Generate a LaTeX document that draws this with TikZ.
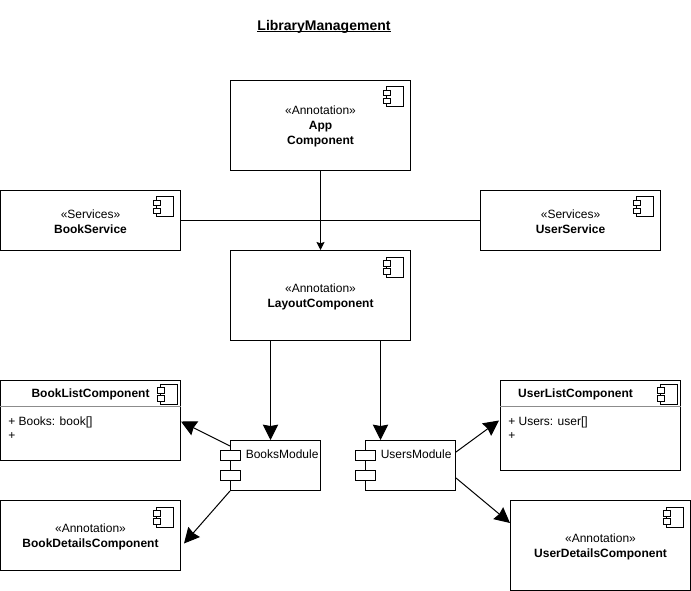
\documentclass[tikz,border=0pt]{standalone}
\usepackage{fontspec}
\setmainfont{Liberation Sans}
\usetikzlibrary{arrows.meta}
\tikzset{
  comp/.style 2 args={draw=black,line width=.75pt,fill=white,inner sep=0pt,
    minimum width=#1*.75pt,minimum height=#2*.75pt},
  txt/.style={inner sep=0pt,font=\fontsize{9}{11.25}\selectfont},
  lab/.style={txt,align=center},
  wire/.style={draw=black,line width=.75pt},
  bigarrow/.style={wire,-{Stealth[length=11.5pt,width=11.5pt,inset=1pt]}},
  smallarrow/.style={wire,-{Stealth[length=6pt,width=6pt,inset=1pt]}},
  iconpart/.style={draw=black,line width=.75pt,fill=white}
}
\newcommand{\compicon}[3]{%
  \begin{scope}[shift={(#1.north east)}]
    \draw[iconpart] (#2+3.5,#3) rectangle (#2+20,#3+20);
    \draw[iconpart] (#2,#3+3.5) rectangle (#2+7,#3+9);
    \draw[iconpart] (#2,#3+11.5) rectangle (#2+7,#3+17);
  \end{scope}}
\newcommand{\modports}[1]{%
  \begin{scope}[shift={(#1.north west)}]
    \draw[iconpart] (-10,10) rectangle (10,20);
    \draw[iconpart] (-10,30) rectangle (10,40);
  \end{scope}}
\begin{document}
\begin{tikzpicture}[x=.75pt,y=-.75pt]
\useasboundingbox[fill=white] (-0.5,-0.5) rectangle (690.5,590.5);

\node[txt,font=\fontsize{10.5}{12}\selectfont\bfseries,anchor=base] (title) at (323.5,30) {LibraryManagement};
\draw[draw=black,line width=.75pt] ([yshift=-1.1pt]title.base west) -- ([yshift=-1.1pt]title.base east);

\node[comp={180}{90}] (app) at (320,125) {};
\node[comp={180}{60}] (bookservice) at (90,220) {};
\node[comp={180}{60}] (userservice) at (570,220) {};
\node[comp={180}{90}] (layout) at (320,295) {};
\node[comp={180}{80}] (booklist) at (90,420) {};
\node[comp={180}{70}] (bookdetails) at (90,535) {};
\node[comp={90}{50}] (books) at (275,465) {};
\node[comp={90}{50}] (users) at (410,465) {};
\node[comp={180}{90}] (userlist) at (590,425) {};
\node[comp={180}{90}] (userdetails) at (600,545) {};

\node[lab] (applabel) at ([yshift=-1pt]app.center) {«Annotation»\\\textbf{App}\\\textbf{Component}};
\node[lab] (bookservicelabel) at ([yshift=-1pt]bookservice.center) {«Services»\\\textbf{BookService}};
\node[lab] (userservicelabel) at ([yshift=-1pt]userservice.center) {«Services»\\\textbf{UserService}};
\node[lab] (layoutlabel) at ([yshift=-1pt]layout.center) {«Annotation»\\\textbf{LayoutComponent}};
\node[lab] (bookdetailslabel) at ([yshift=-1pt]bookdetails.center) {«Annotation»\\\textbf{BookDetailsComponent}};
\node[lab] (userdetailslabel) at ([yshift=-1pt]userdetails.center) {«Annotation»\\\textbf{UserDetailsComponent}};

\compicon{app}{-28}{7}
\compicon{bookservice}{-28}{7}
\compicon{userservice}{-28}{7}
\compicon{layout}{-28}{7}
\compicon{booklist}{-24}{4}
\compicon{bookdetails}{-28}{7}
\compicon{userlist}{-24}{4}
\compicon{userdetails}{-28}{7}
\modports{books}
\modports{users}

\draw[draw=black!45,line width=.75pt] ([yshift=-19.5pt]booklist.north west) -- ([yshift=-19.5pt]booklist.north east);
\draw[draw=black!45,line width=.75pt] ([yshift=-19.5pt]userlist.north west) -- ([yshift=-19.5pt]userlist.north east);

\node[txt,font=\fontsize{9}{11.25}\selectfont\bfseries] (booklisttitle) at (90,393.5) {BookListComponent};
\node[txt,anchor=base west] (bookfield) at (7.5,425) {+ Books: book[]};
\node[txt,anchor=base west] (bookplus) at (7.5,439) {+};
\node[txt,font=\fontsize{9}{11.25}\selectfont\bfseries] (userlisttitle) at (575,393.5) {UserListComponent};
\node[txt,anchor=base west] (userfield) at (507.5,425) {+ Users: user[]};
\node[txt,anchor=base west] (userplus) at (507.5,439) {+};
\node[txt,anchor=base west] (bookstext) at (245,457.5) {BooksModule};
\node[txt,anchor=base west] (userstext) at (380,457.5) {UsersModule};

\draw[wire] (bookservice.east) -- (userservice.west);
\draw[smallarrow] (app.south) -- (layout.north);
\draw[bigarrow] ([xshift=-37.5pt]layout.south) -- ([xshift=-3.75pt]books.north);
\draw[bigarrow] ([xshift=45pt]layout.south) -- ([xshift=-22.5pt]users.north);
\draw[bigarrow] ([yshift=-4.5pt]books.north west) -- ([yshift=-.75pt]booklist.east);
\draw[bigarrow] (books.south west) -- ([xshift=2.25pt,yshift=-6pt]bookdetails.east);
\draw[bigarrow] ([yshift=-9pt]users.north east) -- ([xshift=-.75pt,yshift=3.75pt]userlist.west);
\draw[bigarrow] ([yshift=-28.5pt]users.north east) -- ([yshift=-17.25pt]userdetails.north west);
\end{tikzpicture}
\end{document}
